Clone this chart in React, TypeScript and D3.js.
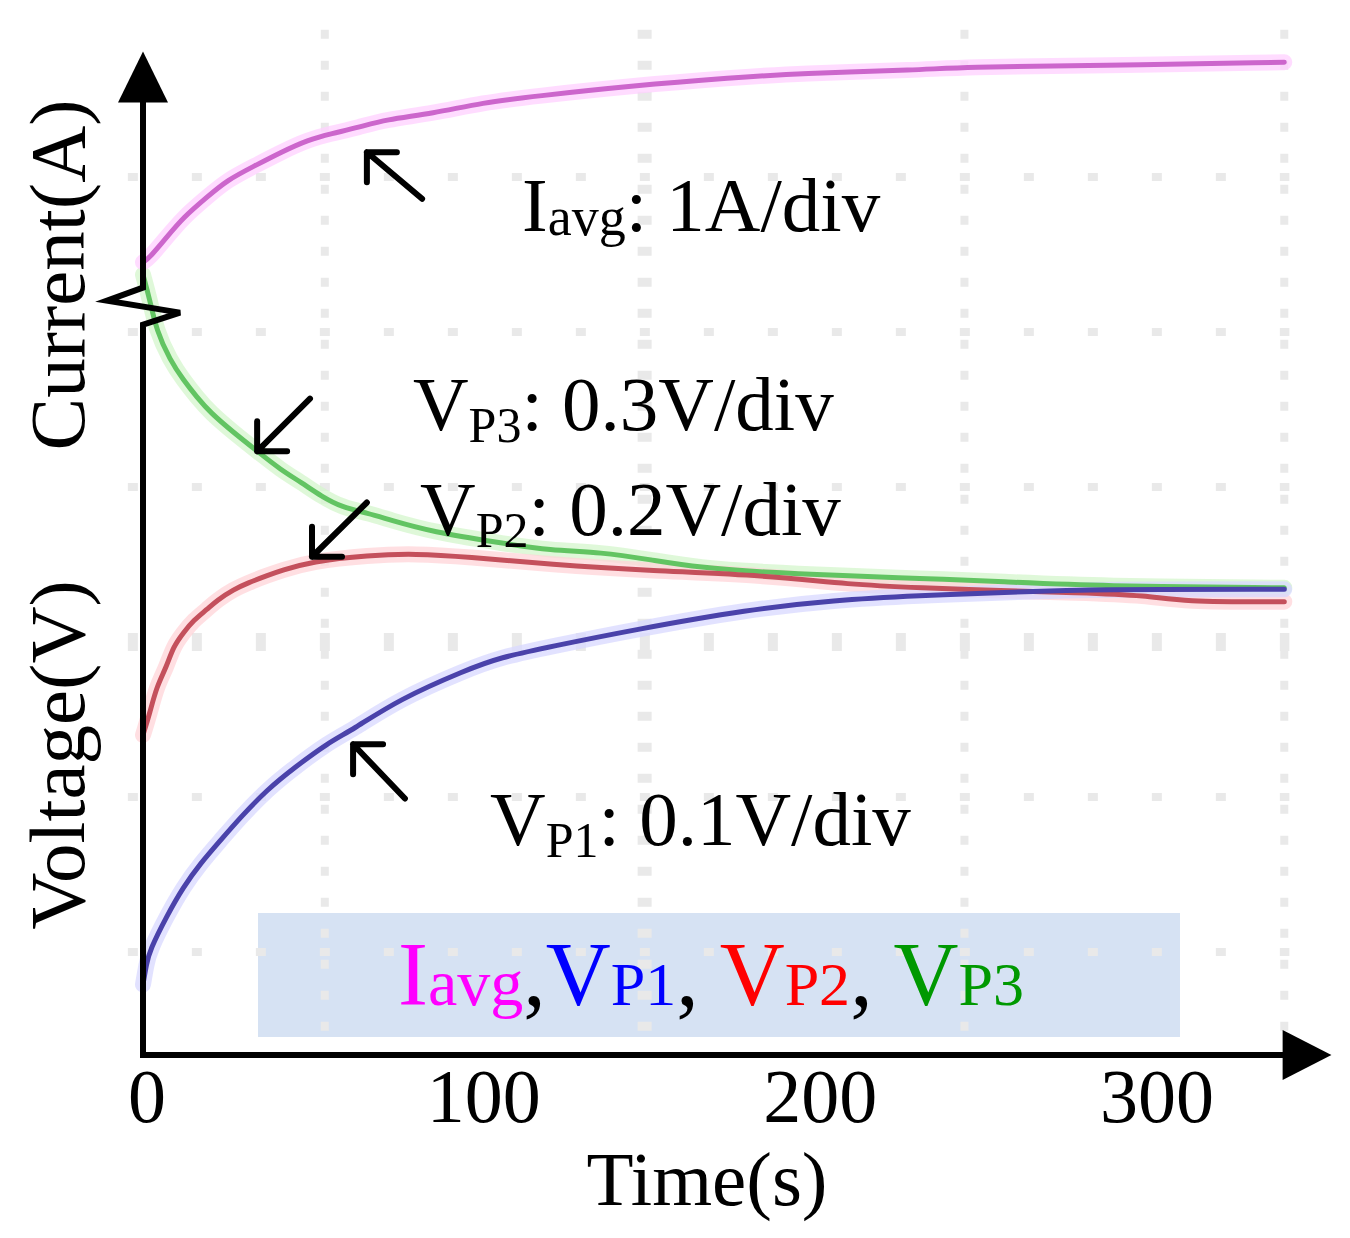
import * as d3 from 'd3';

type Pt = [number, number];

const W = 1350;
const H = 1238;
const FONT = '"Liberation Serif", "Times New Roman", serif';

// time axis (s) and scope graticule (div)
const xTicks = [0, 100, 200, 300];
const gridTimes = [54, 149, 244, 339];
const gridDivs = [1, 2, 3, 4, 5, 6];

// traces: [time s, screen div]
const iavg: Pt[] = [
  [0, 5.45], [2, 5.48], [7, 5.61], [12, 5.74], [19, 5.87], [25, 5.98], [33, 6.07],
  [41, 6.16], [49, 6.24], [56, 6.28], [64, 6.32], [72, 6.37], [86, 6.41], [101, 6.48],
  [116, 6.52], [146, 6.59], [175, 6.64], [195, 6.67], [231, 6.69], [243, 6.71],
  [284, 6.72], [339, 6.74],
];
const vp3: Pt[] = [
  [0, 5.37], [2, 5.21], [4, 5.01], [8, 4.82], [12, 4.69], [16, 4.58], [20, 4.48],
  [27, 4.35], [34, 4.23], [41, 4.11], [47, 4.03], [53, 3.94], [59, 3.87], [67, 3.83],
  [73, 3.79], [86, 3.71], [106, 3.64], [121, 3.59], [136, 3.58], [151, 3.53],
  [165, 3.48], [185, 3.45], [205, 3.43], [231, 3.41], [255, 3.39], [284, 3.36], [339, 3.35],
];
const vp2: Pt[] = [
  [0, 2.4], [2, 2.54], [4, 2.71], [7, 2.84], [9, 2.97], [12, 3.06], [15, 3.14],
  [19, 3.21], [22, 3.27], [27, 3.34], [31, 3.38], [37, 3.43], [41, 3.46], [50, 3.52],
  [67, 3.56], [81, 3.57], [96, 3.55], [121, 3.5], [151, 3.46], [185, 3.43], [210, 3.37],
  [231, 3.35], [255, 3.33], [277, 3.32], [299, 3.3], [308, 3.26], [339, 3.26],
];
const vp1: Pt[] = [
  [0, 0.79], [1, 0.92], [2, 1.01], [7, 1.23], [12, 1.42], [17, 1.57], [23, 1.72],
  [29, 1.87], [37, 2.05], [45, 2.19], [55, 2.35], [62, 2.43], [76, 2.63], [96, 2.82],
  [106, 2.9], [121, 2.97], [146, 3.08], [180, 3.21], [205, 3.27], [231, 3.3],
  [255, 3.32], [284, 3.34], [339, 3.34],
];

const series = [
  { name: 'VP3', data: vp3, core: '#62c462', halo: '#d4f6cc' },
  { name: 'VP2', data: vp2, core: '#c4505c', halo: '#ffd4d8' },
  { name: 'VP1', data: vp1, core: '#4a42aa', halo: '#d8d8ff' },
  { name: 'Iavg', data: iavg, core: '#cc66cc', halo: '#ffd0ff' },
];

// annotation arrows: tip and tail in [time, div]
const arrows: { tip: Pt; tail: Pt }[] = [
  { tip: [66.5, 6.16], tail: [82.9, 5.86] },
  { tip: [33.9, 4.23], tail: [49.6, 4.57] },
  { tip: [50.2, 3.55], tail: [66.5, 3.9] },
  { tip: [62.4, 2.34], tail: [77.8, 1.99] },
];

const labels = [
  { at: [112.6, 5.65] as Pt, main: 'I', sub: 'avg', rest: ': 1A/div', subDy: 4 },
  { at: [80.2, 4.37] as Pt, main: 'V', sub: 'P3', rest: ': 0.3V/div', subDy: 12 },
  { at: [82.3, 3.69] as Pt, main: 'V', sub: 'P2', rest: ': 0.2V/div', subDy: 12 },
  { at: [103.1, 1.69] as Pt, main: 'V', sub: 'P1', rest: ': 0.1V/div', subDy: 12 },
];

const legendItems = [
  { main: 'I', sub: 'avg', color: '#ff00ff', sep: ',' },
  { main: 'V', sub: 'P1', color: '#0000ff', sep: ', ' },
  { main: 'V', sub: 'P2', color: '#ff0000', sep: ', ' },
  { main: 'V', sub: 'P3', color: '#009900', sep: '' },
];

const x = d3.scaleLinear().domain([0, 300]).range([143, 1153]);
const y = d3.scaleLinear().domain([1, 6]).range([952, 177]);

const line = d3
  .line<Pt>()
  .x((d) => x(d[0]))
  .y((d) => y(d[1]))
  .curve(d3.curveBasis);

const AXIS_X = x(0);
const AXIS_Y = y(0.335);
const BREAK_Y = y(5.17);

export default function App() {
  const gridTop = y(6.95);
  const gridBottom = y(0.42);
  const gridLeft = x(-4.5);
  const gridRight = x(340.5);

  return (
    <svg
      width={W}
      height={H}
      viewBox={`0 0 ${W} ${H}`}
      style={{ position: 'absolute', left: 0, top: 0, background: '#fff' }}
      fontFamily={FONT}
    >
      {/* legend box sits under the graticule dots */}
      <rect x={258} y={913} width={922} height={124} fill="#d6e2f3" />

      {/* scope graticule */}
      <g stroke="#e9e9e9" fill="none">
        {gridTimes.map((t) => (
          <line
            key={`v${t}`}
            x1={x(t)}
            x2={x(t)}
            y1={gridTop}
            y2={gridBottom}
            strokeWidth={t === 149 ? 14 : 8}
            strokeDasharray="9 22"
          />
        ))}
        {gridDivs.map((d) => (
          <line
            key={`h${d}`}
            x1={gridLeft}
            x2={gridRight}
            y1={y(d)}
            y2={y(d)}
            strokeWidth={d === 3 ? 18 : 8}
            strokeDasharray="10 54"
          />
        ))}
      </g>

      {/* trace glow */}
      <g fill="none" strokeLinecap="round" strokeLinejoin="round">
        {series.map((s) => (
          <path key={`h${s.name}`} d={line(s.data) ?? ''} stroke={s.halo} strokeWidth={16} opacity={0.75} />
        ))}
        {series.map((s) => (
          <path key={`c${s.name}`} d={line(s.data) ?? ''} stroke={s.core} strokeWidth={5} />
        ))}
      </g>

      {/* axes */}
      <g stroke="#000" strokeWidth={6} fill="none" strokeLinejoin="miter">
        <path
          d={`M${AXIS_X},${AXIS_Y} L${AXIS_X},${BREAK_Y + 19} L${AXIS_X + 37},${BREAK_Y + 7} L${AXIS_X - 36},${BREAK_Y - 5} L${AXIS_X},${BREAK_Y - 18} L${AXIS_X},${y(6.5)}`}
        />
        <path d={`M${AXIS_X - 3},${AXIS_Y} L${x(340)},${AXIS_Y}`} />
      </g>
      <path
        d={`M${AXIS_X},${y(6.81)} L${AXIS_X - 25},${y(6.48)} L${AXIS_X + 25},${y(6.48)} Z`}
        fill="#000"
      />
      <path
        d={`M${x(353)},${AXIS_Y} L${x(338.5)},${AXIS_Y - 25} L${x(338.5)},${AXIS_Y + 25} Z`}
        fill="#000"
      />

      {/* x tick labels */}
      {xTicks.map((t) => (
        <text key={t} x={x(t) + 4} y={1122} fontSize={76} textAnchor="middle" fill="#000">
          {t}
        </text>
      ))}
      <text x={707} y={1205} fontSize={77} textAnchor="middle" fill="#000">
        Time(s)
      </text>
      <text transform="translate(84,275) rotate(-90)" fontSize={79} textAnchor="middle" fill="#000">
        Current(A)
      </text>
      <text transform="translate(84,755) rotate(-90)" fontSize={79} textAnchor="middle" fill="#000">
        Voltage(V)
      </text>

      {/* annotation arrows */}
      <g stroke="#000" strokeWidth={6} fill="none" strokeLinecap="round" strokeLinejoin="round">
        {arrows.map((a, i) => {
          const tx = x(a.tip[0]);
          const ty = y(a.tip[1]);
          const sx = Math.sign(x(a.tail[0]) - tx);
          const sy = Math.sign(y(a.tail[1]) - ty);
          return (
            <path
              key={i}
              d={`M${x(a.tail[0])},${y(a.tail[1])} L${tx},${ty} M${tx + sx * 30},${ty} L${tx},${ty} L${tx},${ty + sy * 30}`}
            />
          );
        })}
      </g>

      {/* scale labels */}
      {labels.map((l, i) => (
        <text key={i} x={x(l.at[0])} y={y(l.at[1])} fontSize={77} fill="#000">
          <tspan>{l.main}</tspan>
          <tspan fontSize={l.sub === 'avg' ? 54 : 50} dy={l.subDy}>
            {l.sub}
          </tspan>
          <tspan dy={-l.subDy}>{l.rest}</tspan>
        </text>
      ))}

      {/* legend text */}
      <text x={398} y={1005} fontSize={90}>
        {legendItems.map((it, i) => [
          <tspan key={`m${i}`} fill={it.color}>
            {it.main}
          </tspan>,
          <tspan key={`s${i}`} fill={it.color} fontSize={it.sub === 'avg' ? 66 : 62}>
            {it.sub}
          </tspan>,
          it.sep ? (
            <tspan key={`p${i}`} fill="#000" style={{ whiteSpace: 'pre' }}>
              {it.sep}
            </tspan>
          ) : null,
        ])}
      </text>
    </svg>
  );
}
